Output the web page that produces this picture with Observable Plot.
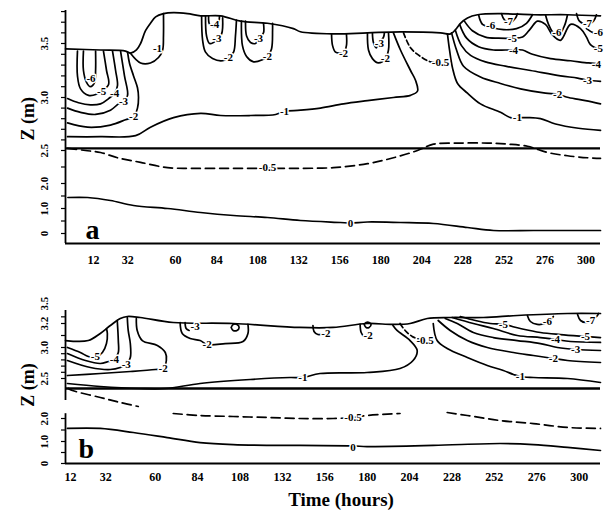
<!DOCTYPE html>
<html>
<head>
<meta charset="utf-8">
<script src="https://cdn.jsdelivr.net/npm/d3@7"></script>
<script src="https://cdn.jsdelivr.net/npm/@observablehq/plot@0.6"></script>
<style>
html, body { margin: 0; padding: 0; background: #fff; }
#chart { width: 604px; height: 513px; overflow: hidden; }
#chart svg { display: block; }
</style>
</head>
<body>
<div id="chart"></div>
<script>
// ---------- shared tick values ----------
const timeTicks = [12, 32, 60, 84, 108, 132, 156, 180, 204, 228, 252, 276, 300];
const aZTicks = [0, 1, 2, 2.5, 3, 3.5];
const aZTickLabels = ["0", "1.0", "2.0", "2.5", "3.0", "3.5"];
const bZTicks = [0, 1, 2, 2.5, 3, 3.2, 3.5];
const bZTickLabels = ["0", "1.0", "2.0", "2.5", "3.0", "3.2", "3.5"];
const aMinorTicks = [0, 0.5, 1, 1.5, 2, 2.25, 2.5, 2.6, 2.7, 2.8, 2.9, 3.0, 3.1, 3.2, 3.3, 3.4, 3.5, 3.6, 3.7, 3.8];
const bMinorTicks = [0, 0.5, 1, 1.5, 2, 2.5, 2.6, 2.7, 2.8, 2.9, 3.0, 3.1, 3.2, 3.3];

// ---------- panel a : [time (h), Z (m)] ----------
const aSurface = [[-4.4,3.45],[16.1,3.44],[30.7,3.43],[33.6,3.41],[37.1,3.44],[39.5,3.5],[42.4,3.62],[45.3,3.69],[48.3,3.75],[52.9,3.78],[58.8,3.79],[67,3.78],[74.6,3.76],[86.3,3.76],[98,3.71],[113.7,3.69],[128.9,3.64],[133,3.61],[152.3,3.59],[172.2,3.6],[191.5,3.61],[214.9,3.6],[220.8,3.59],[223.7,3.63],[226.6,3.69],[230.7,3.74],[236.6,3.77],[250,3.78],[269.3,3.77],[289.2,3.77],[308.5,3.76]];
const aSeparatorZ = 2.52;
const aSolidUpper = [
  [[6.1,3.43],[6.1,3.25],[7.9,3.14],[10.2,3.1],[12.6,3.14],[13.2,3.25],[13.2,3.43]],
  [[2.6,3.43],[2.6,3.2],[4.4,3.08],[9.1,3.02],[13.7,3.03],[16.7,3.06],[20.8,3.12],[19.6,3.25],[17.8,3.43]],
  [[-3.2,2.99],[3.2,2.95],[10.2,2.93],[16.1,2.94],[20.8,2.99],[24.3,3.04],[26,3.11],[24.9,3.25],[23.1,3.43]],
  [[-3.2,2.9],[4.4,2.86],[13.2,2.84],[21.9,2.88],[26.6,2.94],[29.5,2.96],[31.9,3.02],[30.1,3.2],[27.8,3.43]],
  [[-3.2,2.76],[8.5,2.72],[21.9,2.74],[30.7,2.79],[35.4,2.82],[37.7,2.9],[38.3,3.0],[37.7,3.09],[35.4,3.2],[33,3.32],[31.9,3.42]],
  [[33.6,3.41],[39.5,3.32],[45.3,3.32],[50,3.37],[52.4,3.44],[52.9,3.57],[52.9,3.78]],
  [[-3.2,2.63],[16.1,2.63],[36.6,2.64],[45.3,2.72],[58.8,2.81],[74.6,2.85],[86.3,2.83],[103.8,2.83],[118.5,2.84],[123.7,2.87],[133,2.88],[144.7,2.9],[158.2,2.94],[172.2,2.97],[187.4,3.0],[197.4,3.02],[201.5,3.06],[200.3,3.16],[197.4,3.25],[191.5,3.44],[187.4,3.6]],
  [[75.2,3.76],[75.8,3.53],[77.5,3.42],[81.6,3.36],[87.5,3.34],[90.9,3.37],[93.9,3.42],[95,3.57],[95.6,3.72]],
  [[77.5,3.76],[78.1,3.57],[79.9,3.5],[84,3.53],[86.9,3.59],[87.5,3.74]],
  [[79.3,3.76],[79.9,3.68],[82.8,3.66],[85.1,3.7],[85.7,3.76]],
  [[98.5,3.71],[99.1,3.48],[101.5,3.38],[105.6,3.33],[110.8,3.35],[113.7,3.38],[116.1,3.45],[116.7,3.62],[116.7,3.69]],
  [[100.9,3.71],[101.5,3.57],[103.8,3.51],[106.7,3.5],[109.1,3.55],[111.4,3.6],[111.4,3.69]],
  [[151.2,3.59],[151.8,3.48],[153.5,3.42],[156.4,3.41],[158.2,3.41],[159.9,3.48],[159.9,3.59]],
  [[172.2,3.6],[172.8,3.44],[175.1,3.36],[178.6,3.32],[182.7,3.36],[184.5,3.44],[184.5,3.6]],
  [[175.1,3.6],[175.7,3.51],[177.4,3.46],[179.2,3.51],[181.6,3.56],[182.1,3.6]],
  [[219,3.59],[220.2,3.44],[222,3.27],[224.9,3.13],[230.7,3.04],[238.3,2.94],[250,2.86],[255.9,2.81],[259.9,2.81],[265.8,2.81],[273.4,2.8],[282.2,2.75],[295.6,2.71],[308.5,2.69]],
  [[221.4,3.6],[224.3,3.44],[228.4,3.29],[238.3,3.19],[250,3.13],[261.7,3.08],[276.3,3.04],[283.4,3.03],[289.8,3.0],[299.7,2.97],[308.5,2.94]],
  [[223.7,3.62],[227.2,3.48],[232.5,3.39],[241.2,3.33],[252.9,3.29],[267.6,3.25],[285.1,3.2],[295.1,3.18],[300.9,3.16],[308.5,3.15]],
  [[226.1,3.68],[230.2,3.55],[237.2,3.47],[245.9,3.44],[252.9,3.44],[257.6,3.44],[262.9,3.44],[268.7,3.4],[279.3,3.36],[291,3.34],[301.5,3.32],[308.5,3.31]],
  [[228.9,3.71],[233.6,3.62],[241.2,3.56],[248.8,3.55],[257,3.55],[262.9,3.56],[267.6,3.64],[271.6,3.71],[276.3,3.68],[280.4,3.58],[285.1,3.53],[291,3.68],[296.8,3.64],[300.3,3.56],[302.6,3.49],[308.5,3.44]],
  [[237.2,3.77],[239.5,3.68],[244.8,3.65],[251.8,3.63],[259.4,3.64],[265.2,3.69],[268.7,3.77]],
  [[250.6,3.78],[252.4,3.72],[255.9,3.7],[258.8,3.74],[259.9,3.78]],
  [[276.3,3.77],[278.1,3.68],[281,3.6],[284.5,3.59],[287.5,3.67],[289.2,3.77]],
  [[294.5,3.78],[296.2,3.71],[300.3,3.68],[304.4,3.71],[306.1,3.77]],
  [[300.3,3.64],[304.4,3.6],[308.5,3.59]]
];
const aDashedUpper = [
  [[193.3,3.6],[197.4,3.46],[203.2,3.38],[209.1,3.33],[214.9,3.32]]
];
const aDashedLower = [
  [[-3.2,2.52],[7.3,2.5],[16.1,2.47],[26,2.39],[39.5,2.32],[55.3,2.24],[70.5,2.23],[90.4,2.23],[106.7,2.23],[113.7,2.23],[121.4,2.23],[133,2.23],[152.3,2.24],[172.2,2.3],[187.4,2.39],[201.5,2.5],[210.8,2.56],[226.6,2.57],[242.4,2.57],[254.1,2.56],[265.8,2.54],[277.5,2.47],[289.2,2.42],[300.9,2.39],[308.5,2.38]]
];
const aSolidLower = [
  [[-3,1.44],[8.5,1.44],[21.9,1.32],[35.4,1.12],[55.3,1.0],[74.6,0.84],[93.9,0.72],[113.7,0.64],[133,0.52],[156.4,0.44],[162.3,0.42],[172.2,0.46],[191.5,0.44],[210.8,0.4],[230.7,0.24],[245.9,0.12],[269.3,0.12],[289.2,0.12],[308.5,0.12]]
];
const aLabels = [["-6",10.5,3.18],["-5",16.7,3.06],["-4",24.3,3.04],["-3",29.5,2.96],["-2",35.4,2.82],["-1",49.4,3.45],["-1",123.7,2.87],["-4",82.8,3.68],["-3",84.1,3.55],["-2",90.9,3.37],["-3",108.5,3.55],["-2",113.7,3.38],["-2",158.2,3.41],["-3",179.2,3.5],["-2",182.7,3.36],["-0.5",214.9,3.32],["-1",259.9,2.81],["-2",283.4,3.03],["-3",300.9,3.16],["-4",257.6,3.44],["-4",306.1,3.31],["-5",257,3.55],["-5",307.3,3.45],["-6",244.2,3.67],["-7",254.7,3.71],["-6",283,3.6],["-7",300.9,3.69],["-6",307.3,3.6],["-0.5",113.7,2.24],["0",162.3,0.42]];

// ---------- panel b : [time (h), Z (m)] ----------
const bSurface = [[9.2,3.058],[22.1,3.058],[28.9,3.117],[34.6,3.183],[40.2,3.275],[44.2,3.305],[51.5,3.29],[70.2,3.215],[104.1,3.2],[141.9,3.167],[160.7,3.167],[179.9,3.2],[194.6,3.192],[204.3,3.2],[214,3.275],[227,3.29],[245.8,3.29],[265,3.32],[293.4,3.35],[312.1,3.35]];
const bSeparatorZ = 2.375;
const bSolidUpper = [
  [[10.3,3.0],[17.6,2.919],[22.1,2.855],[26.1,2.84],[30.1,2.919],[32.4,3.033],[32.9,3.117],[32.4,3.158]],
  [[10.3,2.903],[20.5,2.79],[28.9,2.742],[33.5,2.774],[36.9,2.806],[39.1,2.919],[39.1,3.058],[38.5,3.245]],
  [[10.3,2.79],[23.3,2.677],[34.6,2.645],[40.2,2.677],[43.6,2.726],[45.9,2.839],[45.9,3.033],[44.7,3.142],[44.2,3.29]],
  [[10.3,2.548],[28.9,2.581],[45.9,2.613],[60.1,2.645],[64.5,2.661],[66.3,2.79],[65.7,2.919],[61.2,3.017],[52.7,3.058],[49.8,3.142],[49.3,3.275]],
  [[10.3,2.4375],[28.9,2.4],[51.5,2.375],[65.7,2.375],[85.4,2.4375],[113.7,2.4875],[136.3,2.516],[143.6,2.516],[153.3,2.581],[179.9,2.597],[198.6,2.661],[206,2.79],[208.3,2.952],[204.3,3.058],[196.9,3.142],[194.6,3.183]],
  [[74.1,3.215],[75.3,3.117],[79.8,3.075],[85.4,3.058],[89.4,3.025],[99.6,3.033],[109.7,3.05],[112.5,3.117],[112.5,3.192]],
  [[76.9,3.215],[77.5,3.158],[79.2,3.142]],
  [[103,3.167],[104.1,3.192],[106.3,3.192],[107.5,3.167],[106.3,3.142],[104.1,3.142],[103,3.167]],
  [[149.3,3.183],[149.9,3.133],[152.1,3.108],[156.6,3.117]],
  [[176,3.192],[176.6,3.125],[178.3,3.092],[179.9,3.1]],
  [[178.3,3.192],[179.4,3.215],[181.1,3.215],[182.2,3.192],[181.1,3.167],[179.4,3.167],[178.3,3.192]],
  [[217.4,3.2],[219.6,3.058],[225.3,2.984],[236.7,2.839],[248,2.71],[257.1,2.629],[262.8,2.565],[266.7,2.532],[274.1,2.516],[293.4,2.5],[312.1,2.45]],
  [[220.2,3.245],[227,3.142],[236.7,3.058],[248,3.0],[262.8,2.919],[274.1,2.871],[285.4,2.823],[293.4,2.79],[312.1,2.758]],
  [[224.2,3.275],[231,3.2],[240.1,3.125],[251.4,3.083],[265,3.058],[278.1,3.033],[287.7,3.0],[298,2.968],[312.1,2.952]],
  [[228.1,3.29],[240.1,3.2],[251.4,3.158],[265,3.1],[278.1,3.083],[286.6,3.067],[295.1,3.05],[312.1,3.042]],
  [[232.7,3.305],[241.2,3.245],[249.7,3.2],[257.1,3.192],[266.7,3.158],[278.1,3.125],[289.4,3.108],[303.6,3.092],[312.1,3.083]],
  [[270.7,3.32],[272.4,3.23],[276.3,3.192],[282,3.215],[285.4,3.305]],
  [[299.1,3.335],[300.8,3.245],[304.2,3.215],[306.5,3.245],[309.9,3.305],[311,3.35]]
];
const bDashedUpper = [
  [[198.6,3.2],[201.5,3.142],[205.5,3.092],[210,3.065]]
];
const bDashedLower = [
  [[10.8,2.375],[13.1,2.35],[28.9,2.2625],[40.2,2.2],[50.4,2.15]],
  [[70.2,2.0625],[85.4,2.0375],[104.1,2.025],[123.3,2.0125],[141.9,2.0],[160.7,2.0],[172,2.0125],[179.9,2.0375],[198.6,2.0625]],
  [[225.3,2.075],[236.7,2.0375],[255.4,1.91],[274.1,1.78],[293.4,1.61],[312.1,1.57]]
];
const bSolidLower = [
  [[10.3,1.57],[28.9,1.57],[47.6,1.39],[66.8,1.17],[85.4,0.95],[104.1,0.86],[141.9,0.82],[172,0.8],[179.9,0.77],[217.4,0.82],[255.4,0.91],[274.1,0.86],[293.4,0.73],[312.1,0.59]]
];
const bLabels = [["-5",26.1,2.855],["-4",36.9,2.806],["-3",43.6,2.726],["-2",64.5,2.661],["-1",143.6,2.516],["-2",89.4,3.025],["-3",82.6,3.175],["-2",156.6,3.117],["-2",180.5,3.1],["-0.5",212.8,3.058],["-1",266.7,2.532],["-2",285.4,2.823],["-3",298,2.968],["-4",286.6,3.067],["-5",257.1,3.192],["-5",303.6,3.092],["-6",282,3.23],["-7",306.5,3.245],["-0.5",172,2.0125],["0",172,0.75]];

// axis titles, placed at the depth they are centred on
const aAxisTitle = [{text: "Z (m)", z: 2.8}];
const bAxisTitle = [{text: "Z (m)", z: 2.42}];

// ---------- helpers ----------
const FONT = "'Liberation Serif', 'Times New Roman', serif";
const rows = (lines) => lines.flatMap((pts, id) => pts.map(([t, z]) => ({id, t, z})));
const labelRows = (arr) => arr.map(([text, t, z]) => ({text, t, z}));
const LW = 1.7;

// broken (piecewise) vertical axis: z -> fraction of the panel height
const aZBreak = d3.scaleLinear().domain([-0.4, 0, 1, 2, 2.5, 3, 3.5, 3.81]).range([0, 10, 35, 60, 93, 146, 200, 233].map((v) => v / 233));
const bZBreak = d3.scaleLinear().domain([0, 1, 2, 2.5, 3, 3.2, 3.5]).range([0, 22, 45, 85, 116, 140, 160].map((v) => v / 160));

function contourMarks(surface, solidU, dashedU, solidL, dashedL, labels) {
  return [
    Plot.line(surface.map(([t, z]) => ({t, z})), {x: "t", y: "z", stroke: "black", strokeWidth: LW, curve: "catmull-rom"}),
    Plot.line(rows(solidU), {x: "t", y: "z", z: "id", stroke: "black", strokeWidth: LW, curve: "catmull-rom", strokeLinejoin: "round"}),
    Plot.line(rows(solidL), {x: "t", y: "z", z: "id", stroke: "black", strokeWidth: LW, curve: "catmull-rom"}),
    Plot.line(rows(dashedU), {x: "t", y: "z", z: "id", stroke: "black", strokeWidth: LW, strokeDasharray: "5,3", curve: "catmull-rom"}),
    Plot.line(rows(dashedL), {x: "t", y: "z", z: "id", stroke: "black", strokeWidth: LW, strokeDasharray: "9,5", curve: "catmull-rom"}),
    Plot.text(labelRows(labels), {x: "t", y: "z", text: "text", fontSize: 11, fontWeight: "bold", fill: "black", stroke: "white", strokeWidth: 3})
  ];
}

// ---------- panel a ----------
const plotA = Plot.plot({
  width: 604, height: 270,
  marginLeft: 65, marginRight: 4, marginTop: 10, marginBottom: 27,
  style: {fontFamily: FONT, fontWeight: "bold", fontSize: "12px", background: "white", color: "black"},
  x: {domain: [-4.4, 308.5], label: null},
  y: {transform: aZBreak, domain: [0, 1], label: null},
  marks: [
    ...contourMarks(aSurface, aSolidUpper, aDashedUpper, aSolidLower, aDashedLower, aLabels),
    Plot.ruleY([aSeparatorZ], {stroke: "black", strokeWidth: 2.4}),
    Plot.ruleY([-0.4], {stroke: "black", strokeWidth: 2}),
    Plot.ruleX([-4.4], {y1: -0.4, y2: 3.81, stroke: "black", strokeWidth: 1.8}),
    Plot.axisY(aMinorTicks, {tickSize: 4, fill: "none", strokeWidth: 1.2, label: null}),
    Plot.axisY(aZTicks, {tickSize: 0, tickRotate: -90, tickPadding: 18, fontSize: 11, label: null,
      tickFormat: (d) => aZTickLabels[aZTicks.indexOf(d)]}),
    Plot.axisX(timeTicks, {tickSize: 0, tickPadding: 12, fontSize: 12, label: null}),
    Plot.text(aAxisTitle, {y: "z", text: "text", frameAnchor: "left", textAnchor: "middle", lineAnchor: "middle", rotate: -90, dx: -37, fontSize: 18, fontWeight: "bold"}),
    Plot.text(["a"], {frameAnchor: "bottom-left", textAnchor: "start", lineAnchor: "bottom", dx: 20, dy: -5, fontSize: 28, fontWeight: "bold"})
  ]
});

// ---------- panel b ----------
const plotB = Plot.plot({
  width: 604, height: 243,
  marginLeft: 65, marginRight: 4, marginTop: 33, marginBottom: 50,
  style: {fontFamily: FONT, fontWeight: "bold", fontSize: "12px", background: "white", color: "black"},
  x: {domain: [9.2, 312.1], label: null},
  y: {transform: bZBreak, domain: [0, 1], label: null},
  marks: [
    ...contourMarks(bSurface, bSolidUpper, bDashedUpper, bSolidLower, bDashedLower, bLabels),
    Plot.ruleY([bSeparatorZ], {stroke: "black", strokeWidth: 2.4}),
    Plot.ruleY([0], {stroke: "black", strokeWidth: 2}),
    Plot.ruleX([9.2], {y1: 0, y2: 2.06, stroke: "black", strokeWidth: 1.8}),
    Plot.ruleX([9.2], {y1: 2.225, y2: 3.395, stroke: "black", strokeWidth: 1.8}),
    Plot.axisY(bMinorTicks, {tickSize: 4, fill: "none", strokeWidth: 1.2, label: null}),
    Plot.axisY(bZTicks, {tickSize: 0, tickRotate: -90, tickPadding: 18, fontSize: 11, label: null,
      tickFormat: (d) => bZTickLabels[bZTicks.indexOf(d)]}),
    Plot.axisX(timeTicks, {tickSize: 0, tickPadding: 9, fontSize: 12, label: null}),
    Plot.text(bAxisTitle, {y: "z", text: "text", frameAnchor: "left", textAnchor: "middle", lineAnchor: "middle", rotate: -90, dx: -37, fontSize: 18, fontWeight: "bold"}),
    Plot.text(["b"], {frameAnchor: "bottom-left", textAnchor: "start", lineAnchor: "bottom", dx: 13, dy: -6, fontSize: 28, fontWeight: "bold"}),
    Plot.text(["Time (hours)"], {frameAnchor: "bottom", dx: 8, dy: 42, fontSize: 19, fontWeight: "bold"})
  ]
});

document.getElementById("chart").append(plotA, plotB);
</script>
</body>
</html>
